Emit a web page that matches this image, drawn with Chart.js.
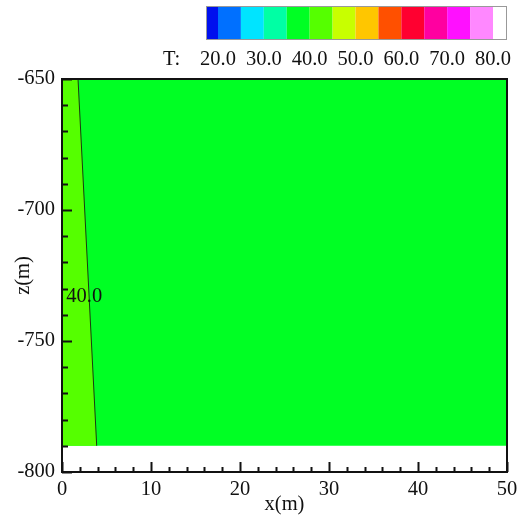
<!DOCTYPE html>
<html>
<head>
<meta charset="utf-8">
<script src="https://cdn.jsdelivr.net/npm/chart.js@4"></script>
<style>
  html,body{margin:0;padding:0;background:#fff;}
  canvas{display:block;}
</style>
</head>
<body>
<canvas id="chart" width="525" height="519"></canvas>
<script>
// domain
const xRange=[0,50];
const zRange=[-800,-650];
const dataBottom=-790;

// colour legend levels (T) and band colours
const levels=[20,25,30,35,40,45,50,55,60,65,70,75,80];
const bandColors=["#0010ee","#0070ff","#00e4ff","#00ffa4","#00ff24","#55ff00","#c8ff00","#ffc600","#ff5000","#ff0030","#ff00a0","#ff10ff","#ff88ff","#ffffff"];
const legendLabels=["20.0","30.0","40.0","50.0","60.0","70.0","80.0"];

// contour T=40 (x,z)
const contourX=[1.8,3.9];
const contourZ=[-650,-790];
const contourLabel="40.0";
const contourLabelPos=[2.5,-733];

const FONT="'Liberation Serif','Times New Roman',serif";
const FS=20.5;

const warmBand=[
  {x:0,y:-650},
  {x:contourX[0],y:contourZ[0]},
  {x:contourX[1],y:contourZ[1]},
  {x:0,y:dataBottom},
  {x:0,y:-650}
];

const tickPlugin={
  id:"inTicks",
  afterDatasetsDraw(chart){
    const ctx=chart.ctx;
    const a=chart.chartArea;
    const xs=chart.scales.x, ys=chart.scales.y;
    ctx.save();
    // contour label
    ctx.fillStyle="#111";
    ctx.font=FS+"px "+FONT;
    ctx.textAlign="center";
    ctx.textBaseline="middle";
    ctx.fillText(contourLabel,xs.getPixelForValue(contourLabelPos[0]),ys.getPixelForValue(contourLabelPos[1]));
    // ticks
    ctx.strokeStyle="#111";
    ctx.lineWidth=2;
    ctx.beginPath();
    for(let v=xRange[0];v<=xRange[1];v+=2){
      const px=Math.round(xs.getPixelForValue(v))+0.5;
      const len=v%10===0?10:5;
      ctx.moveTo(px,a.bottom);
      ctx.lineTo(px,a.bottom-len);
    }
    for(let v=zRange[0];v<=zRange[1];v+=10){
      const py=Math.round(ys.getPixelForValue(v))+0.5;
      const len=v%50===0?10:6;
      ctx.moveTo(a.left,py);
      ctx.lineTo(a.left+len,py);
    }
    ctx.stroke();
    ctx.strokeRect(a.left,a.top,a.right-a.left,a.bottom-a.top);

    // colour bar legend
    const barL=206, barR=506, barT=6, barB=39;
    const first=218, last=493;
    const unit=(last-first)/(levels.length-1);
    const edges=[barL];
    levels.forEach((l,i)=>edges.push(first+i*unit));
    edges.push(barR);
    for(let i=0;i<bandColors.length;i++){
      ctx.fillStyle=bandColors[i];
      ctx.fillRect(edges[i],barT,edges[i+1]-edges[i],barB-barT);
    }
    ctx.strokeStyle="#999";
    ctx.lineWidth=1;
    ctx.strokeRect(barL+0.5,barT+0.5,barR-barL,barB-barT);
    ctx.fillStyle="#111";
    ctx.font=FS+"px "+FONT;
    ctx.textBaseline="middle";
    ctx.textAlign="center";
    legendLabels.forEach((t,i)=>{
      ctx.fillText(t,first+i*2*unit,60);
    });
    ctx.textAlign="left";
    ctx.fillText("T:",163,60);
    ctx.restore();
  }
};

new Chart(document.getElementById("chart"),{
  type:"scatter",
  data:{
    datasets:[
      {
        data:contourX.map((x,i)=>({x:x,y:contourZ[i]})),
        showLine:true,
        borderColor:"#1a3a10",
        borderWidth:1,
        pointRadius:0,
        fill:false,
        order:0
      },
      {
        data:warmBand,
        showLine:true,
        borderWidth:0,
        borderColor:"rgba(0,0,0,0)",
        backgroundColor:bandColors[5],
        pointRadius:0,
        fill:"shape",
        order:1
      },
      {
        data:[{x:xRange[0],y:dataBottom},{x:xRange[1],y:dataBottom}],
        showLine:true,
        borderWidth:0,
        borderColor:"rgba(0,0,0,0)",
        backgroundColor:bandColors[4],
        pointRadius:0,
        fill:"end",
        order:2
      }
    ]
  },
  options:{
    responsive:false,
    animation:false,
    events:[],
    layout:{padding:{left:0,top:79,right:18,bottom:0}},
    plugins:{legend:{display:false},tooltip:{enabled:false}},
    scales:{
      x:{
        type:"linear",
        min:xRange[0],
        max:xRange[1],
        afterFit(s){s.height=47;},
        grid:{display:false,drawTicks:false},
        border:{display:false},
        ticks:{
          stepSize:2,
          autoSkip:false,
          maxRotation:0,
          padding:5,
          color:"#111",
          font:{family:FONT,size:FS},
          callback:v=>v%10===0?String(v):""
        },
        title:{display:true,text:"x(m)",color:"#111",font:{family:FONT,size:FS},padding:{top:0,bottom:2}}
      },
      y:{
        type:"linear",
        min:zRange[0],
        max:zRange[1],
        afterFit(s){s.width=62;},
        grid:{display:false,drawTicks:false},
        border:{display:false},
        ticks:{
          stepSize:10,
          autoSkip:false,
          padding:7,
          color:"#111",
          font:{family:FONT,size:FS},
          callback:v=>v%50===0?String(v):""
        },
        title:{display:true,text:"z(m)",color:"#111",font:{family:FONT,size:FS},padding:{top:11,bottom:0}}
      }
    }
  },
  plugins:[tickPlugin]
});
</script>
</body>
</html>
